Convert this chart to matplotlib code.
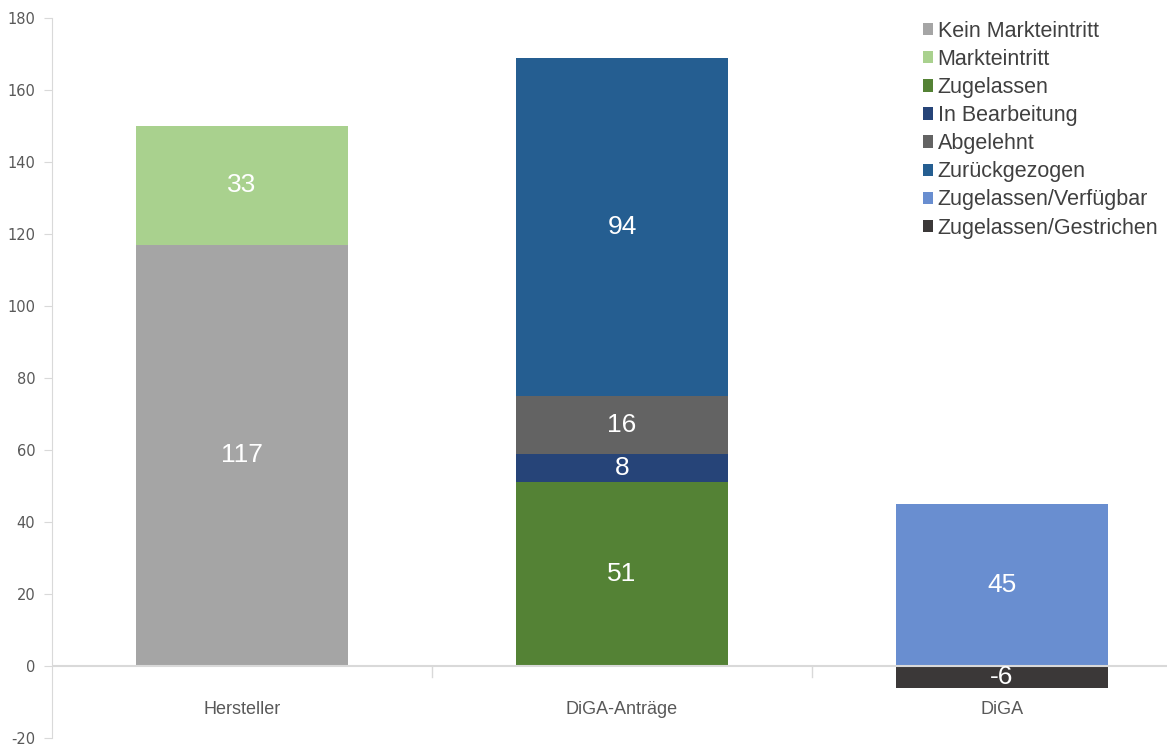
import numpy as np
import matplotlib.pyplot as plt
from matplotlib.ticker import MultipleLocator

plt.rcParams['axes.unicode_minus'] = False

categories = ['Hersteller', 'DiGA-Anträge', 'DiGA']

series_names = ['Kein Markteintritt', 'Markteintritt', 'Zugelassen', 'In Bearbeitung',
                'Abgelehnt', 'Zurückgezogen', 'Zugelassen/Verfügbar', 'Zugelassen/Gestrichen']
kein_markteintritt = [117, 0, 0]
markteintritt = [33, 0, 0]
zugelassen = [0, 51, 0]
in_bearbeitung = [0, 8, 0]
abgelehnt = [0, 16, 0]
zurueckgezogen = [0, 94, 0]
verfuegbar = [0, 0, 45]
gestrichen = [0, 0, -6]

colors = ['#a5a5a5', '#a9d18e', '#548235', '#264478',
          '#636363', '#255e91', '#698ed0', '#3b3838']

series = [kein_markteintritt, markteintritt, zugelassen, in_bearbeitung,
          abgelehnt, zurueckgezogen, verfuegbar, gestrichen]

fig = plt.figure(figsize=(11.67, 7.46), dpi=100)
# axes runs a bit past the right edge, like the original export
ax = fig.add_axes([52 / 1167, 8 / 746, 1140 / 1167, 720 / 746])

x = np.arange(len(categories))
pos_bottom = np.zeros(len(categories))
neg_bottom = np.zeros(len(categories))
for name, vals, col in zip(series_names, series, colors):
    vals = np.array(vals, dtype=float)
    bottom = np.where(vals >= 0, pos_bottom, neg_bottom)
    bars = ax.bar(x, vals, 0.56, bottom=bottom, color=col, label=name, zorder=2)
    for b, v, bt in zip(bars, vals, bottom):
        if v != 0:
            ax.text(b.get_x() + b.get_width() / 2, bt + v / 2, f'{int(v)}',
                    ha='center', va='center', color='white', fontsize=19,
                    family='Liberation Sans', zorder=4)
    pos_bottom += np.where(vals >= 0, vals, 0)
    neg_bottom += np.where(vals < 0, vals, 0)

ax.axhline(0, color='#d9d9d9', lw=1.5, zorder=3)

ax.set_xlim(-0.5, 2.5)
ax.set_ylim(-20, 180)
ax.yaxis.set_major_locator(MultipleLocator(20))
ax.tick_params(axis='y', colors='#d9d9d9', labelcolor='#595959', labelsize=10.5,
               length=6, direction='out', pad=6)
for lab in ax.get_yticklabels():
    lab.set_family('DejaVu Sans')

ax.set_xticks([])
for xi, cat in zip(x, categories):
    ax.text(xi, -12, cat, ha='center', va='center', color='#595959',
            fontsize=13, family='Liberation Sans')
# separators between categories below the zero line
for xs in [0.5, 1.5]:
    ax.plot([xs, xs], [0, -3], color='#d9d9d9', lw=1, zorder=1)

for s in ['top', 'right', 'bottom']:
    ax.spines[s].set_visible(False)
ax.spines['left'].set_color('#d9d9d9')

leg = ax.legend(loc='upper left', bbox_to_anchor=(862 / 1140, 1.008), frameon=False,
                fontsize=15.5, handlelength=0.5, handleheight=0.5, handletextpad=0.2,
                labelspacing=0.33, borderaxespad=0)
for t in leg.get_texts():
    t.set_color('#404040')
    t.set_family('Liberation Sans')

plt.savefig('out.png', dpi=100)
plt.close()
